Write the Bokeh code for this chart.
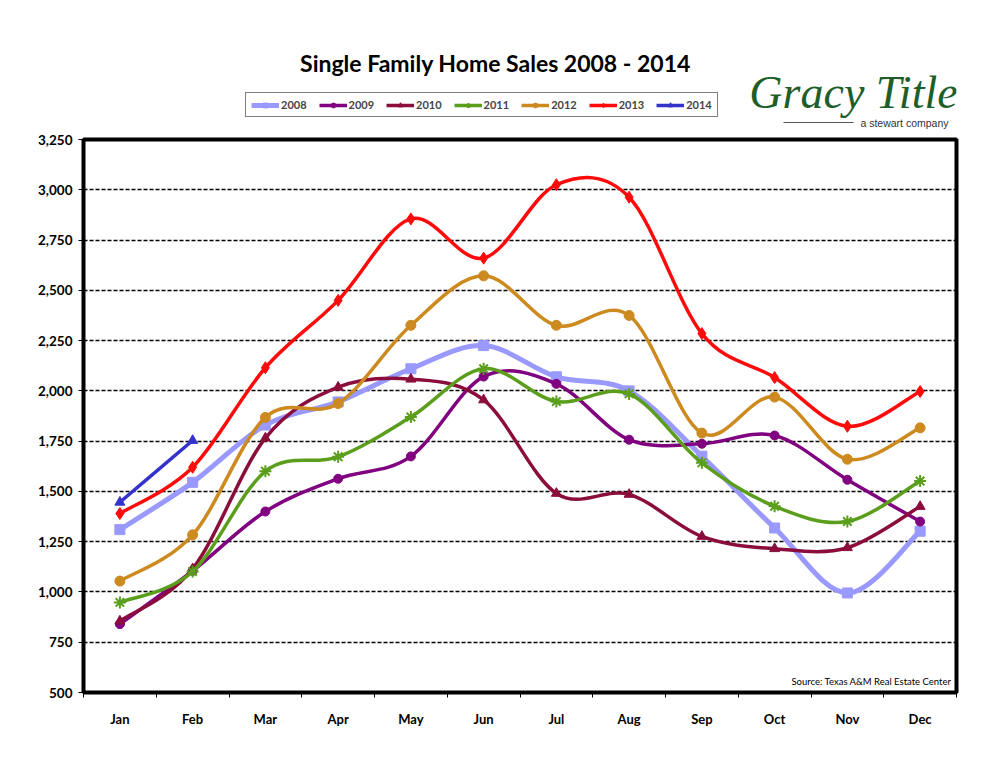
from bokeh.plotting import figure
from bokeh.embed import file_html
from bokeh.resources import INLINE
from bokeh.layouts import column
import bokeh.models as bkm

months = ["Jan", "Feb", "Mar", "Apr", "May", "Jun", "Jul", "Aug", "Sep", "Oct", "Nov", "Dec"]

sales_2008 = [1310, 1545, 1830, 1945, 2110, 2225, 2070, 2000, 1675, 1318, 995, 1302]
sales_2009 = [840, 1105, 1400, 1563, 1674, 2071, 2035, 1757, 1737, 1778, 1558, 1350]
sales_2010 = [855, 1115, 1765, 2018, 2058, 1955, 1490, 1485, 1276, 1215, 1220, 1425]
sales_2011 = [948, 1102, 1600, 1672, 1870, 2110, 1947, 1985, 1642, 1426, 1350, 1552]
sales_2012 = [1054, 1284, 1868, 1937, 2326, 2572, 2326, 2375, 1790, 1969, 1660, 1816]
sales_2013 = [1390, 1620, 2115, 2450, 2855, 2660, 3025, 2963, 2285, 2066, 1824, 1997]
sales_2014 = [1446, 1753]

series = [
    ("2008", sales_2008, "#9999FF", "square", 10, 5),
    ("2009", sales_2009, "#800080", "circle", 9, 3.5),
    ("2010", sales_2010, "#8B0D3C", "triangle", 10, 3.5),
    ("2011", sales_2011, "#5A9E1C", "asterisk", 12, 3.5),
    ("2012", sales_2012, "#CC8A1F", "circle", 10, 3.5),
    ("2013", sales_2013, "#FF0A0A", "diamond", 12, 3.5),
    ("2014", sales_2014, "#3333CC", "triangle", 10, 3.5),
]

BOLD = "Lato"
LEFT, FRAME_W, RIGHT = 83, 873, 22
HEAD_H = 129

# header strip: title, legend, logo (x and y in page pixels)
head = figure(
    width=LEFT + FRAME_W + RIGHT, height=HEAD_H,
    x_range=bkm.Range1d(LEFT, LEFT + FRAME_W), y_range=bkm.Range1d(HEAD_H, 0),
    output_backend="svg", toolbar_location=None, tools="",
    min_border=0, min_border_left=LEFT, min_border_right=RIGHT,
)
head.axis.visible = False
head.grid.visible = False
head.outline_line_color = None

head.add_layout(bkm.Label(
    x=495, y=62, text="Single Family Home Sales 2008 - 2014",
    text_font=BOLD, text_font_style="bold", text_font_size="23px",
    text_align="center", text_baseline="middle", text_color="black",
))
head.add_layout(bkm.Label(
    x=853, y=66, text="Gracy Title",
    text_font="Liberation Serif", text_font_style="italic", text_font_size="46px",
    text_align="center", text_baseline="top", text_color="#1D5E2A",
))
head.segment(x0=[783], y0=[122], x1=[853], y1=[122], line_color="#555555", line_width=1)
head.add_layout(bkm.Label(
    x=948, y=122, text="a stewart company",
    text_font="Liberation Sans", text_font_size="10.5px",
    text_align="right", text_baseline="middle", text_color="#333333",
))

# main chart
p = figure(
    width=LEFT + FRAME_W + RIGHT,
    height=621,
    x_range=bkm.Range1d(-0.5, 11.5),
    y_range=bkm.Range1d(500, 3250),
    output_backend="svg",
    toolbar_location=None,
    tools="",
    min_border_left=LEFT,
    min_border_right=RIGHT,
    min_border_top=10,
    min_border_bottom=58,
)
p.outline_line_color = "black"
p.outline_line_width = 4

p.xaxis.ticker = bkm.FixedTicker(
    ticks=list(range(12)), minor_ticks=[i - 0.5 for i in range(13)]
)
p.xaxis.major_label_overrides = {i: m for i, m in enumerate(months)}
p.xaxis.major_tick_line_color = None
p.xaxis.minor_tick_line_color = "black"
p.xaxis.minor_tick_out = 5
p.xaxis.minor_tick_in = 0
p.xaxis.axis_line_color = None
p.xaxis.major_label_standoff = 12
p.xaxis.major_label_text_font = BOLD
p.xaxis.major_label_text_font_style = "bold"
p.xaxis.major_label_text_font_size = "13px"
p.xaxis.major_label_text_color = "black"

p.yaxis.ticker = bkm.FixedTicker(ticks=list(range(500, 3251, 250)))
p.yaxis.formatter = bkm.NumeralTickFormatter(format="0,0")
p.yaxis.axis_line_color = None
p.yaxis.major_tick_out = 5
p.yaxis.major_tick_in = 0
p.yaxis.minor_tick_line_color = None
p.yaxis.major_label_standoff = 6
p.yaxis.major_label_text_font = BOLD
p.yaxis.major_label_text_font_style = "bold"
p.yaxis.major_label_text_font_size = "13.5px"
p.yaxis.major_label_text_color = "black"

p.xgrid.grid_line_color = None
p.ygrid.grid_line_color = "black"
p.ygrid.grid_line_dash = "4 2"
p.ygrid.grid_line_width = 1.3

# smoothed lines (Catmull-Rom as cubic beziers) plus markers
items = []
for name, vals, color, marker, size, lw in series:
    xs = list(range(len(vals)))
    n = len(vals)
    x0, y0, x1, y1, cx0, cy0, cx1, cy1 = [], [], [], [], [], [], [], []
    for i in range(n - 1):
        pxm, pym = (xs[i - 1], vals[i - 1]) if i > 0 else (xs[i], vals[i])
        pxp, pyp = (xs[i + 2], vals[i + 2]) if i + 2 < n else (xs[i + 1], vals[i + 1])
        x0.append(xs[i]); y0.append(vals[i])
        x1.append(xs[i + 1]); y1.append(vals[i + 1])
        cx0.append(xs[i] + (xs[i + 1] - pxm) / 6); cy0.append(vals[i] + (vals[i + 1] - pym) / 6)
        cx1.append(xs[i + 1] - (pxp - xs[i]) / 6); cy1.append(vals[i + 1] - (pyp - vals[i]) / 6)
    src = bkm.ColumnDataSource(dict(x0=x0, y0=y0, x1=x1, y1=y1, cx0=cx0, cy0=cy0, cx1=cx1, cy1=cy1))
    p.bezier(
        x0="x0", y0="y0", x1="x1", y1="y1", cx0="cx0", cy0="cy0", cx1="cx1", cy1="cy1",
        source=src, line_color=color, line_width=lw, line_cap="round",
    )
    mw = 2 if marker == "asterisk" else 1
    p.scatter(xs, vals, marker=marker, size=size, fill_color=color,
              line_color=color, line_width=mw)

    # stand-ins for the legend in the header strip (kept out of view)
    lr = head.line([-50, -40], [-50, -50], line_color=color, line_width=lw)
    mr = head.scatter([-50], [-50], marker=marker, size=size - 1, fill_color=color,
                      line_color=color, line_width=mw)
    items.append(bkm.LegendItem(label=name, renderers=[lr, mr]))

legend = bkm.Legend(
    items=items,
    orientation="horizontal",
    location=(245 - LEFT, HEAD_H - 117),
    border_line_color="black",
    border_line_width=1,
    background_fill_alpha=1,
    label_text_font=BOLD,
    label_text_font_style="bold",
    label_text_font_size="11px",
    glyph_width=28,
    glyph_height=12,
    label_standoff=2,
    spacing=12,
    padding=5,
    margin=0,
    label_height=12,
)
head.add_layout(legend, "center")

p.add_layout(bkm.Label(
    x=868, y=6, x_units="screen", y_units="screen",
    text="Source: Texas A&M Real Estate Center",
    text_font=BOLD, text_font_size="9.5px",
    text_align="right", text_baseline="bottom", text_color="black",
))

layout = column(head, p, spacing=0)
open("out.html", "w").write(file_html(layout, INLINE))
